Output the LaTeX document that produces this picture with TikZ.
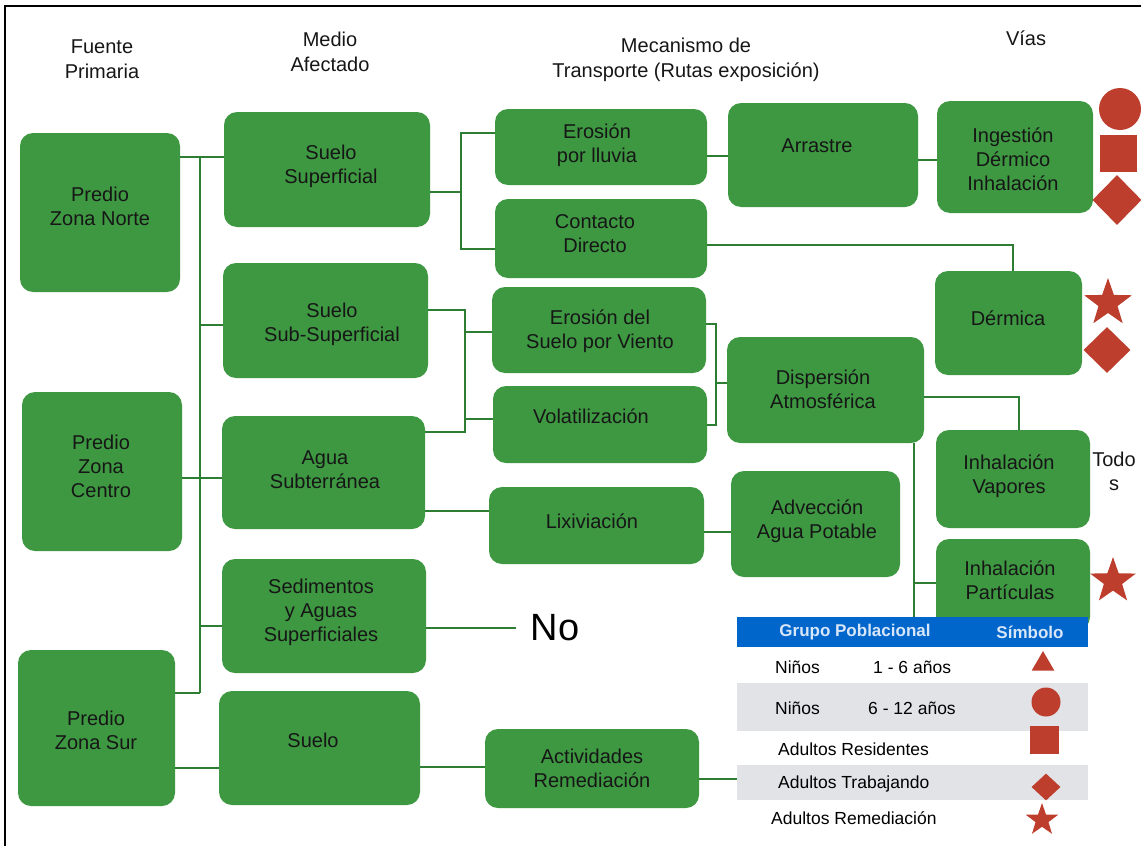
\documentclass[tikz,border=0pt]{standalone}
\usepackage{fontspec}
\setmainfont{Liberation Sans}
\usetikzlibrary{calc,shapes.geometric}
\definecolor{boxg}{RGB}{62,152,66}
\definecolor{lineg}{RGB}{45,125,50}
\definecolor{symr}{RGB}{190,62,45}
\definecolor{hdrb}{RGB}{0,102,204}
\definecolor{rowg}{RGB}{226,227,231}
\definecolor{hdrt}{RGB}{215,230,248}
\definecolor{txtc}{RGB}{22,22,22}
\newcommand\bx[8]{%
  \node[box, minimum width={#4-#2}, minimum height={#5-#3}] (#1) at ({(#2+#4)/2},{(#3+#5)/2}) {};
  \node[btxt] (#1t) at (#6,#7) {#8};}
\begin{document}
\begin{tikzpicture}[x=1pt,y=-1pt,
  box/.style={draw=none, fill=boxg, rounded corners=13pt, inner sep=0pt},
  btxt/.style={align=center, font=\fontsize{20}{24}\selectfont, text=txtc, inner sep=0pt},
  htxt/.style={align=center, font=\fontsize{20}{24.5}\selectfont, text=txtc, inner sep=0pt},
  conn/.style={draw=lineg, line width=1.3pt},
  ttxt/.style={anchor=west, font=\fontsize{17.5}{20}\selectfont, text=black, inner sep=0pt},
  thd/.style={font=\bfseries\fontsize{17}{20}\selectfont, text=hdrt, inner sep=0pt},
  symc/.style={circle, fill=symr, inner sep=0pt},
  syms/.style={rectangle, fill=symr, inner sep=0pt},
  symd/.style={diamond, fill=symr, inner sep=0pt},
  symst/.style={star, star points=5, star point ratio=2.5, fill=symr, inner sep=0pt},
  symt/.style={regular polygon, regular polygon sides=3, fill=symr, inner sep=0pt},
  row/.style={anchor=north west, inner sep=0pt, minimum width=351}
]
\useasboundingbox (0,0) rectangle (1141,846);
% frame
\draw[line width=2pt] (5,846) -- (5,6) -- (1141,6);

% column headers
\node[htxt] (h1) at (102,59) {Fuente\\Primaria};
\node[htxt] (h2) at (330,52) {Medio\\Afectado};
\node[htxt] (h3) at (686,60) {Mecanismo de\\Transporte (Rutas exposición)};
\node[htxt] (h4) at (1026,38) {Vías};

% boxes
\bx{nN}{20}{133}{180}{292}{100}{206}{Predio\\Zona Norte}
\bx{nC}{22}{392}{182}{551}{101}{466}{Predio\\Zona\\Centro}
\bx{nS}{18}{650}{175}{806}{96}{730}{Predio\\Zona Sur}
\bx{mSS}{224}{112}{430}{227}{331}{166}{Suelo\\Superficial}
\bx{mSub}{223}{263}{428}{378}{332}{324}{Suelo\\Sub-Superficial}
\bx{mAg}{222}{416}{425}{529}{325}{470}{Agua\\Subterránea}
\bx{mSed}{222}{559}{426}{673}{321}{612}{Sedimentos\\y Aguas\\Superficiales}
\bx{mSu}{219}{691}{420}{805}{313}{740}{Suelo}
\bx{tEr}{495}{109}{707}{185}{597}{145}{Erosión\\por lluvia}
\bx{tCo}{495}{199}{707}{278}{595}{234}{Contacto\\Directo}
\bx{tEv}{492}{287}{706}{373}{600}{331}{Erosión del\\Suelo por Viento}
\bx{tVo}{493}{386}{707}{463}{591}{416}{Volatilización}
\bx{tLi}{489}{487}{704}{564}{592}{521}{Lixiviación}
\bx{tAc}{485}{729}{699}{808}{592}{768}{Actividades\\Remediación}
\bx{tAr}{728}{103}{918}{207}{817}{146}{Arrastre}
\bx{tDi}{727}{337}{924}{443}{823}{389}{Dispersión\\Atmosférica}
\bx{tAd}{731}{471}{900}{577}{817}{521}{Advección\\Agua Potable}
\bx{vIn}{937}{101}{1093}{213}{1013}{159}{Ingestión\\Dérmico\\Inhalación}
\bx{vDe}{935}{271}{1082}{375}{1008}{318}{Dérmica}
\bx{vVa}{936}{430}{1090}{528}{1009}{476}{Inhalación\\Vapores}
\bx{vPa}{936}{539}{1090}{630}{1010}{580}{Inhalación\\Partículas}

\node[btxt] (todos) at (1114,471) {Todo\\s};
\node[inner sep=0pt, font=\fontsize{38}{40}\selectfont, text=black] (no) at (555,628) {No};

% connectors
\coordinate (j1) at (200,157);
\coordinate (j2) at (200,693);
\coordinate (j3) at (200,325);
\coordinate (j4) at (200,478);
\coordinate (j5) at (200,626);
\coordinate (j6) at (200,768);
\draw[conn] (nN.east|-j1) -- (mSS.west|-j1);
\draw[conn] (j1) -- (j2);
\draw[conn] (nS.east|-j2) -- (j2);
\draw[conn] (j3) -- (mSub.west|-j3);
\draw[conn] (nC.east|-j4) -- (mAg.west|-j4);
\draw[conn] (j5) -- (mSed.west|-j5);
\draw[conn] (nS.east|-j6) -- (mSu.west|-j6);

\coordinate (a0) at (461,192);
\coordinate (a1) at (461,133);
\coordinate (a2) at (461,249);
\draw[conn] (mSS.east|-a0) -- (a0);
\draw[conn] (tEr.west|-a1) -- (a1) -- (a2) -- (tCo.west|-a2);

\coordinate (b1) at (465,310);
\coordinate (b2) at (465,432);
\coordinate (b3) at (465,332);
\coordinate (b4) at (465,419);
\draw[conn] (mSub.east|-b1) -- (b1) -- (b2) -- (mAg.east|-b2);
\draw[conn] (b3) -- (tEv.west|-b3);
\draw[conn] (b4) -- (tVo.west|-b4);

\coordinate (c1) at (716,324);
\coordinate (c2) at (716,425);
\coordinate (c3) at (716,383);
\draw[conn] (tEv.east|-c1) -- (c1) -- (c2) -- (tVo.east|-c2);
\draw[conn] (c3) -- (tDi.west|-c3);

\coordinate (d1) at (460,511);
\draw[conn] (mAg.east|-d1) -- (tLi.west|-d1);
\coordinate (d2) at (715,532);
\draw[conn] (tLi.east|-d2) -- (tAd.west|-d2);
\coordinate (d3) at (715,156);
\draw[conn] (tEr.east|-d3) -- (tAr.west|-d3);
\coordinate (d4) at (925,160);
\draw[conn] (tAr.east|-d4) -- (vIn.west|-d4);

\coordinate (e1) at (1013,245);
\draw[conn] (tCo.east|-e1) -- (e1) -- (e1|-vDe.north);
\coordinate (f1) at (1019,397);
\draw[conn] (tDi.east|-f1) -- (f1) -- (f1|-vVa.north);

\coordinate (k1) at (470,628);
\draw[conn, shorten >=15pt] (mSed.east|-k1) -- (no.west);
\coordinate (k2) at (450,767);
\draw[conn] (mSu.east|-k2) -- (tAc.west|-k2);

% table
\node[row, fill=hdrb, minimum height=30] (tbl) at (737,617) {};
\node[row, fill=rowg, minimum height=48] (r2) at (737,683) {};
\node[row, fill=rowg, minimum height=35] (r4) at (737,765) {};

\coordinate (g1) at (914,583);
\draw[conn] (g1|-tDi.south) -- (g1|-tbl.north);
\draw[conn] (g1) -- (vPa.west|-g1);
\coordinate (h5) at (720,779);
\draw[conn] (tAc.east|-h5) -- (r4.west|-h5);

\node[thd] (th1) at (855,632) {Grupo Poblacional};
\node[thd] (th2) at (1030,632) {Símbolo};
\node[ttxt] (t1a) at (775,667) {Niños};
\node[ttxt] (t1b) at (873,667) {1 - 6 años};
\node[ttxt] (t2a) at (775,708) {Niños};
\node[ttxt] (t2b) at (868,708) {6 - 12 años};
\node[ttxt] (t3) at (778,749) {Adultos Residentes};
\node[ttxt] (t4) at (778,784) {Adultos Trabajando};
\node[ttxt] (t5) at (771,818) {Adultos Remediación};

% table symbols
\node[symt, minimum size=26] (s1) at (1043,664) {};
\node[symc, minimum size=29] (s2) at (1046,702) {};
\node[syms, minimum width=29, minimum height=28] (s3) at (1044.5,740) {};
\node[symd, minimum width=29, minimum height=27] (s4) at (1046,787) {};
\node[symst, minimum size=34] (s5) at (1042,820) {};

% right-side symbols
\node[symc, minimum size=42] (q1) at (1120,109) {};
\node[syms, minimum width=37, minimum height=37] (q2) at (1118.5,153.5) {};
\node[symd, minimum width=49, minimum height=50] (q3) at (1117,200) {};
\node[symst, minimum size=50] (q4) at (1108,303) {};
\node[symd, minimum width=47, minimum height=46] (q5) at (1107,350) {};
\node[symst, minimum size=48] (q6) at (1113,581) {};
\end{tikzpicture}
\end{document}
